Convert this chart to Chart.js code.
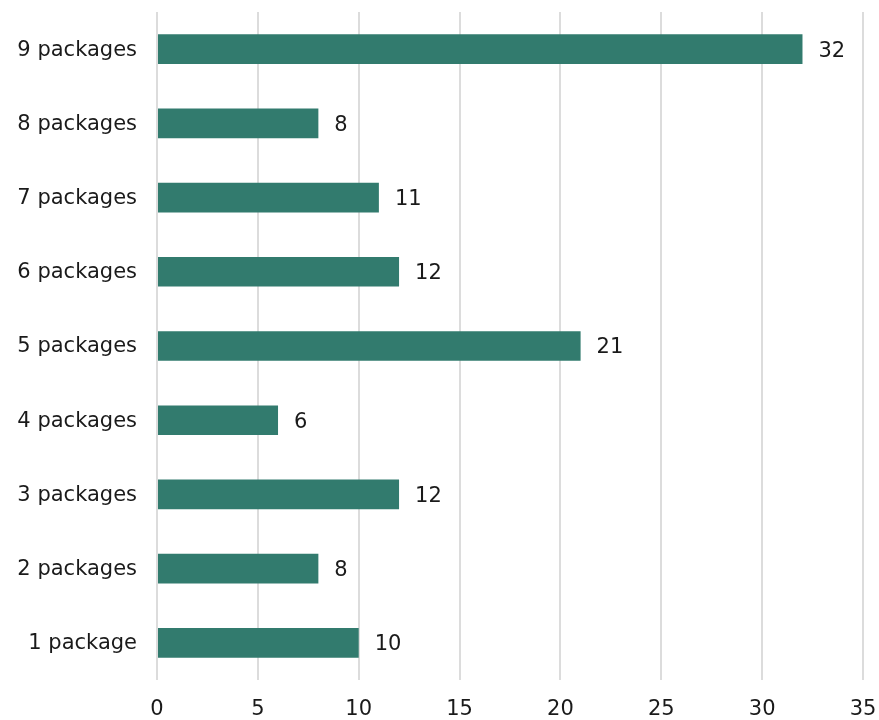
<!DOCTYPE html>
<html>
<head>
<meta charset="utf-8">
<script src="https://cdn.jsdelivr.net/npm/chart.js@4/dist/chart.umd.min.js"></script>
<style>
  html, body { margin: 0; padding: 0; background: #fff; }
  #wrap { width: 879px; height: 720px; }
</style>
</head>
<body>
<div id="wrap"><canvas id="cnv"></canvas></div>
<script>
// packages per order, top row first
const categories = ['9 packages', '8 packages', '7 packages', '6 packages', '5 packages',
                    '4 packages', '3 packages', '2 packages', '1 package'];
const counts = [32, 8, 11, 12, 21, 6, 12, 8, 10];
const xTicks = [0, 5, 10, 15, 20, 25, 30, 35];

const FONT = "'DejaVu Sans', Verdana, sans-serif";
const FONT_SIZE = 21;
const barColor = '#327b6e';

// writes the count just past the end of each bar
const valueLabels = {
  id: 'valueLabels',
  afterDatasetsDraw(chart) {
    const ctx = chart.ctx;
    const meta = chart.getDatasetMeta(0);
    ctx.save();
    ctx.font = FONT_SIZE + 'px ' + FONT;
    ctx.fillStyle = '#1a1a1a';
    ctx.textAlign = 'left';
    ctx.textBaseline = 'middle';
    meta.data.forEach((bar, i) => {
      ctx.fillText(String(counts[i]), bar.x + 16, bar.y + 2);
    });
    ctx.restore();
  }
};

// drop the automatic label overhang so the plot edges stay put
function noPad(scale) {
  scale.paddingTop = 0;
  scale.paddingBottom = 0;
  scale.paddingLeft = 0;
  scale.paddingRight = 0;
}

var ctx = document.getElementById('cnv').getContext('2d');
var chart = new Chart(ctx, {
  type: 'bar',
  data: {
    labels: categories,
    datasets: [{
      data: counts,
      backgroundColor: barColor,
      borderWidth: 0,
      categoryPercentage: 1,
      barPercentage: 0.4
    }]
  },
  options: {
    indexAxis: 'y',
    responsive: true,
    maintainAspectRatio: false,
    animation: false,
    layout: { padding: { top: 12, right: 16, left: 10, bottom: 0 } },
    plugins: { legend: { display: false }, tooltip: { enabled: false } },
    scales: {
      x: {
        min: 0,
        max: 35,
        afterBuildTicks(scale) { scale.ticks = xTicks.map(v => ({ value: v })); },
        afterFit(scale) { scale.height = 40; noPad(scale); },
        grid: { color: '#dcdcdc', lineWidth: 2, drawTicks: false },
        border: { display: false },
        ticks: { padding: 17, color: '#1a1a1a', font: { family: FONT, size: FONT_SIZE } }
      },
      y: {
        afterFit(scale) { scale.width = 147; noPad(scale); },
        grid: { display: false, drawTicks: false },
        border: { display: false },
        ticks: { padding: 20, labelOffset: 1, color: '#1a1a1a', font: { family: FONT, size: FONT_SIZE } }
      }
    }
  },
  plugins: [valueLabels]
});
</script>
</body>
</html>
